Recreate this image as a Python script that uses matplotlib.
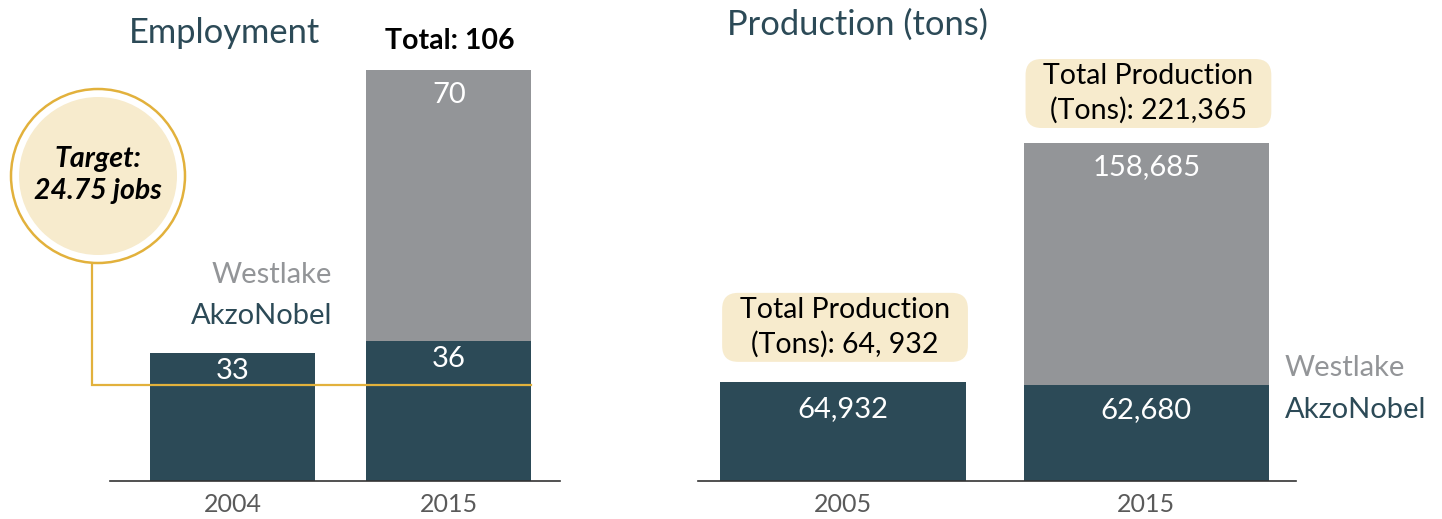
import matplotlib
matplotlib.use("Agg")
import matplotlib.pyplot as plt
from matplotlib.patches import Circle, FancyBboxPatch

plt.rcParams['font.family'] = ['Lato', 'DejaVu Sans']

# ---- data ----
emp_years = ['2004', '2015']
emp_akzo = [33, 36]
emp_westlake = [0, 70]
emp_total_label = 'Total: 106'
emp_target = 24.75
target_label = 'Target:\n24.75 jobs'

prod_years = ['2005', '2015']
prod_akzo = [64932, 62680]
prod_westlake = [0, 158685]
prod_total_labels = ['Total Production\n(Tons): 64, 932', 'Total Production\n(Tons): 221,365']

# ---- style ----
DARK = '#2c4a57'
GRAY = '#939598'
GOLD = '#e2b13c'
CREAM = '#f7ebcd'
TICK = '#5a5a5a'

W, H = 1442, 519
fig = plt.figure(figsize=(W / 100, H / 100), dpi=100)


def rect(x0, x1, ytop, ybot):
    return [x0 / W, (H - ybot) / H, (x1 - x0) / W, (ybot - ytop) / H]


axL = fig.add_axes(rect(110, 560, 0, 481))
axR = fig.add_axes(rect(698, 1296, 0, 481))
ov = fig.add_axes([0, 0, 1, 1], zorder=5)
ov.set_xlim(0, W)
ov.set_ylim(0, H)
ov.axis('off')
ov.patch.set_alpha(0)

axL.set_xlim(-0.566, 1.513)
axL.set_ylim(0, 124.05)
axR.set_xlim(-0.478, 1.493)
axR.set_ylim(0, 315020)

wL, wR = 0.762, 0.81
xs = [0, 1]
axL.bar(xs, emp_akzo, width=wL, color=DARK, zorder=2)
axL.bar(xs, emp_westlake, bottom=emp_akzo, width=wL, color=GRAY, zorder=2)
axR.bar(xs, prod_akzo, width=wR, color=DARK, zorder=2)
axR.bar(xs, prod_westlake, bottom=prod_akzo, width=wR, color=GRAY, zorder=2)

for ax, years in ((axL, emp_years), (axR, prod_years)):
    for s in ('top', 'left', 'right'):
        ax.spines[s].set_visible(False)
    ax.spines['bottom'].set_color('#333333')
    ax.spines['bottom'].set_linewidth(1.2)
    ax.set_yticks([])
    ax.set_xticks(xs)
    ax.set_xticklabels(years, fontsize=18, color=TICK)
    ax.tick_params(axis='x', length=0, pad=9)
    ax.patch.set_alpha(0)


def topx(ax, x, y):
    px, py = ax.transData.transform((x, y))
    return px, py


def val_label(ax, x, y, text, off_px, size=21):
    px, py = topx(ax, x, y)
    ov.text(px, py - off_px, text, ha='center', va='center', color='white',
            fontsize=size, zorder=10)


# employment value labels
for i in range(2):
    val_label(axL, xs[i], emp_akzo[i], str(emp_akzo[i]), 18)
    if emp_westlake[i]:
        val_label(axL, xs[i], emp_akzo[i] + emp_westlake[i], str(emp_westlake[i]), 25)
# production value labels
for i in range(2):
    val_label(axR, xs[i], prod_akzo[i], f'{prod_akzo[i]:,}', 27 if i == 0 else 25)
    if prod_westlake[i]:
        val_label(axR, xs[i], prod_akzo[i] + prod_westlake[i], f'{prod_westlake[i]:,}', 24)

# titles
ov.text(224, H - 33, 'Employment', ha='center', va='center', fontsize=24.8, color=DARK)
ov.text(727, H - 25, 'Production (tons)', ha='left', va='center', fontsize=24.8, color=DARK)

# total employment
px, py = topx(axL, 1, emp_akzo[1] + emp_westlake[1])
ov.text(px + 1, py + 29, emp_total_label, ha='center', va='center', fontsize=20.5,
        fontweight='bold', color='black')

# series labels
ov.text(332, H - 275, 'Westlake', ha='right', va='center', fontsize=21, color=GRAY)
ov.text(332, H - 316, 'AkzoNobel', ha='right', va='center', fontsize=21, color=DARK)
ov.text(1285, H - 368, 'Westlake', ha='left', va='center', fontsize=21, color=GRAY)
ov.text(1285, H - 410, 'AkzoNobel', ha='left', va='center', fontsize=21, color=DARK)

# production total boxes
gaps = [20, 15]
for i in range(2):
    x0, ytop = topx(axR, xs[i] - wR / 2, prod_akzo[i] + prod_westlake[i])
    x1, _ = topx(axR, xs[i] + wR / 2, 0)
    bb = ytop + gaps[i]
    bh = 69
    box = FancyBboxPatch((x0 + 2, bb), (x1 - x0), bh,
                         boxstyle='round,pad=0,rounding_size=16',
                         fc=CREAM, ec='none', zorder=3)
    ov.add_patch(box)
    ov.text((x0 + x1) / 2 + 2, bb + bh / 2, prod_total_labels[i], ha='center',
            va='center', fontsize=20.5, color='black', linespacing=1.35, zorder=4)

# target line + circle
tx1, ty = topx(axL, 1 + wL / 2, emp_target)
cx, cy, r = 98, H - 176, 87
ov.plot([92, 92, tx1], [cy - r + 1, ty, ty], color=GOLD, lw=1.6, zorder=6,
        solid_joinstyle='miter')
ov.add_patch(Circle((cx, cy), r, fc='white', ec=GOLD, lw=1.8, zorder=7))
ov.add_patch(Circle((cx, cy), 79, fc=CREAM, ec='none', zorder=8))
ov.text(cx, cy + 1, target_label, ha='center', va='center', fontsize=20.5,
        fontweight='bold', style='italic', color='black', linespacing=1.3, zorder=9)

fig.savefig('out.png', dpi=100)
